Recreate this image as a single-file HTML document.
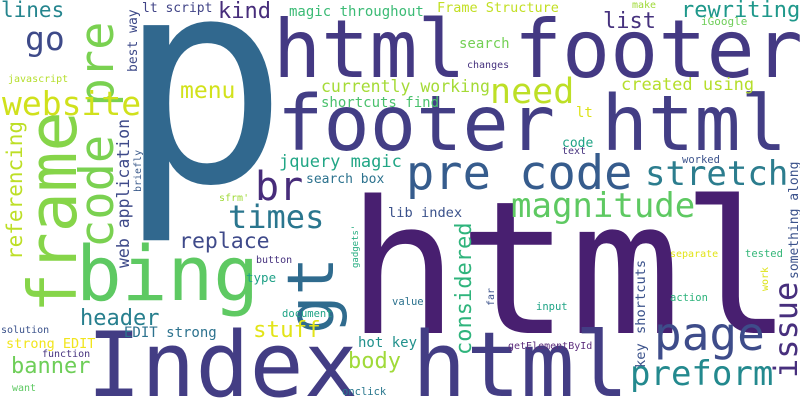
<!DOCTYPE html>
<html><head><meta charset="utf-8"><style>
html,body{margin:0;padding:0;background:#fff;}
svg{display:block;}
text{font-family:"DejaVu Sans Mono","Liberation Mono",monospace;}
</style></head><body>
<svg width="800" height="400" viewBox="0 0 800 400">
<rect width="800" height="400" fill="#fff"/>
<text x="117" y="181" font-size="285" fill="#31688e">p</text>
<text x="347" y="333" font-size="185" fill="#481f70">html</text>
<text x="87" y="396" font-size="90" fill="#433d84">Index html</text>
<text x="273" y="77" font-size="80" fill="#443983">html footer</text>
<text x="277" y="150" font-size="77" fill="#433e85">footer html</text>
<text x="406" y="189" font-size="47" fill="#365c8d">pre code</text>
<text x="76" y="300" font-size="76" fill="#5ec962">bing</text>
<text transform="translate(76,313) rotate(-90)" font-size="67" fill="#86d549">frame</text>
<text transform="translate(113,248) rotate(-90)" font-size="47" fill="#7ad151">code pre</text>
<text transform="translate(333,334) rotate(-90)" font-size="64" fill="#2f6b8e">gt</text>
<text x="255" y="200" font-size="40" fill="#472c7a">br</text>
<text x="2" y="115" font-size="33" fill="#d0e11c">website</text>
<text x="25" y="50" font-size="33" fill="#3e4a89">go</text>
<text x="1" y="17" font-size="21" fill="#25858e">lines</text>
<text x="8" y="82" font-size="10" fill="#b5de2b">javascript</text>
<text transform="translate(22,260) rotate(-90)" font-size="21" fill="#bddf26">referencing</text>
<text transform="translate(137,72) rotate(-90)" font-size="13" fill="#3e4a89">best way</text>
<text x="142" y="12" font-size="13" fill="#414487">lt script</text>
<text x="218" y="18" font-size="22" fill="#472d7b">kind</text>
<text x="289" y="16" font-size="14" fill="#3bbb75">magic throughout</text>
<text x="180" y="98" font-size="23" fill="#d2e21b">menu</text>
<text x="321" y="92" font-size="16.5" fill="#a5db36">currently working</text>
<text x="321" y="107" font-size="14" fill="#4ac16d">shortcuts find</text>
<text x="279" y="167" font-size="17" fill="#21a685">jquery magic</text>
<text x="306" y="183" font-size="13" fill="#2c728e">search box</text>
<text transform="translate(129,268) rotate(-90)" font-size="16.5" fill="#3e4a89">web application</text>
<text transform="translate(141,192) rotate(-90)" font-size="10" fill="#3d5c8c">briefly</text>
<text x="219" y="201" font-size="10" fill="#a0da39">sfrm'</text>
<text x="228" y="228" font-size="32" fill="#2a768e">times</text>
<text x="179" y="248" font-size="21.5" fill="#3f4a8a">replace</text>
<text x="80" y="325" font-size="22" fill="#277f8e">header</text>
<text x="253" y="337" font-size="22.5" fill="#e2e418">stuff</text>
<text x="124" y="337" font-size="14" fill="#2c728e">EDIT strong</text>
<text x="1" y="333" font-size="10" fill="#3b528b">solution</text>
<text x="6" y="348" font-size="13.5" fill="#f1e51d">strong EDIT</text>
<text x="42" y="357" font-size="10" fill="#46327e">function</text>
<text x="11" y="373" font-size="22" fill="#6ece58">banner</text>
<text x="12" y="391" font-size="10" fill="#5ec962">want</text>
<text x="256" y="263" font-size="10" fill="#46327e">button</text>
<text x="246" y="282" font-size="12.5" fill="#1fa187">type</text>
<text x="282" y="317" font-size="10.5" fill="#20a486">document</text>
<text transform="translate(358,268) rotate(-90)" font-size="9" fill="#27ad81">gadgets'</text>
<text x="358" y="347" font-size="14" fill="#21918c">hot key</text>
<text x="348" y="368" font-size="22" fill="#a0da39">body</text>
<text x="342" y="395" font-size="10.5" fill="#2a788e">onclick</text>
<text x="388" y="217" font-size="13.7" fill="#3b528b">lib index</text>
<text x="392" y="305" font-size="10.5" fill="#2c728e">value</text>
<text transform="translate(471,355) rotate(-90)" font-size="22" fill="#2fb47c">considered</text>
<text transform="translate(494,306) rotate(-90)" font-size="10" fill="#3b528b">far</text>
<text x="536" y="310" font-size="10.5" fill="#20a486">input</text>
<text x="508" y="349" font-size="10" fill="#5c2d7c">getElementById</text>
<text transform="translate(645,334) rotate(-90)" font-size="13.7" fill="#3b528b">shortcuts</text>
<text transform="translate(645,368) rotate(-90)" font-size="13.7" fill="#3b528b">key</text>
<text x="511" y="217" font-size="34" fill="#5ec962">magnitude</text>
<text x="654" y="350" font-size="46" fill="#3e4c8a">page</text>
<text x="630" y="385" font-size="34" fill="#23898e">preform</text>
<text transform="translate(797,378) rotate(-90)" font-size="32" fill="#472f7d">issue</text>
<text transform="translate(798,279) rotate(-90)" font-size="13" fill="#3b528b">something along</text>
<text x="670" y="257" font-size="10" fill="#e2e418">separate</text>
<text x="745" y="257" font-size="10.5" fill="#35b779">tested</text>
<text transform="translate(768,291) rotate(-90)" font-size="10" fill="#dde318">work</text>
<text x="670" y="301" font-size="10.5" fill="#2eb37c">action</text>
<text x="645" y="185" font-size="34" fill="#2c7d8e">stretch</text>
<text x="682" y="163" font-size="10.5" fill="#3b528b">worked</text>
<text x="562" y="154" font-size="10" fill="#46327e">text</text>
<text x="562" y="147" font-size="13" fill="#20a486">code</text>
<text x="576" y="117" font-size="14" fill="#dde318">lt</text>
<text x="621" y="90" font-size="17" fill="#b5de2b">created using</text>
<text x="490" y="103" font-size="35" fill="#bddf26">need</text>
<text x="459" y="48" font-size="14" fill="#74d055">search</text>
<text x="467" y="68" font-size="10" fill="#46327e">changes</text>
<text x="437" y="12" font-size="13.5" fill="#c2df23">Frame Structure</text>
<text x="603" y="28" font-size="22" fill="#46327e">list</text>
<text x="681" y="17" font-size="22" fill="#1f988b">rewriting</text>
<text x="632" y="8" font-size="10" fill="#a0da39">make</text>
<text x="701" y="25" font-size="11" fill="#6ece58">iGoogle</text>
</svg>
</body></html>
